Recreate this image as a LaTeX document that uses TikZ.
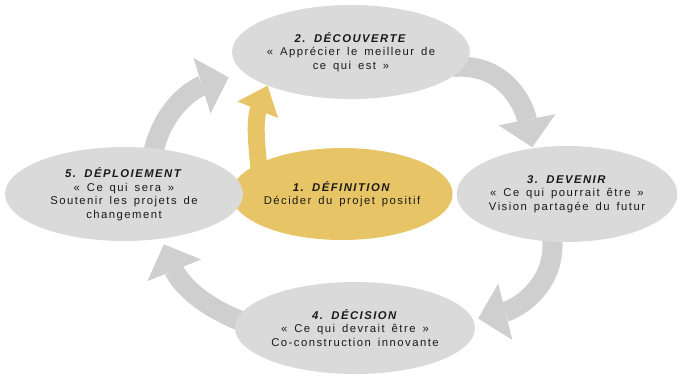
\documentclass[tikz,border=0pt]{standalone}
\usepackage{fontspec}
\setmainfont{Liberation Sans}[LetterSpace=13, WordSpace=1.5]
\usetikzlibrary{arrows.meta}
\usetikzlibrary{bending}
\usetikzlibrary{backgrounds}
\usetikzlibrary{shapes.geometric}
\definecolor{phasegray}{HTML}{DADADA}
\definecolor{flowgray}{HTML}{CFCFCF}
\definecolor{phasegold}{HTML}{E7C466}
\definecolor{phasetext}{HTML}{1A1A1A}

\begin{document}
\begin{tikzpicture}[
    x=1pt, y=1pt,
    every node/.style={
      ellipse,
      inner sep=0pt,
      align=center,
      text=phasetext,
      font=\fontsize{11.3}{13.5}\selectfont
    },
    phase/.style={fill=phasegray},
    flow/.style={
      draw=flowgray,
      line width=20pt,
      -{Triangle[length=28pt,width=58pt,line width=0pt,quick]}
    },
    goldflow/.style={
      draw=phasegold,
      line width=17pt,
      -{Triangle[length=26pt,width=44pt,line width=0pt]}
    }
    ]
    \useasboundingbox (0,0) rectangle (681,-376);
    \node[phase, minimum width=230, minimum height=94] (decouverte) at (351,-52)
      {\textbf{\textit{2. DÉCOUVERTE}}\\« Apprécier le meilleur de\\ce qui est »};
    \node[fill=phasegold, minimum width=190, minimum height=92] (definition) at (342,-194)
      {\textbf{\textit{1. DÉFINITION}}\\Décider du projet positif};
    \node[phase, minimum width=238, minimum height=94] (deploiement) at (124,-194)
      {\textbf{\textit{5. DÉPLOIEMENT}}\\« Ce qui sera »\\Soutenir les projets de\\changement};
    \node[phase, minimum width=220, minimum height=96] (devenir) at (567,-194)
      {\textbf{\textit{3. DEVENIR}}\\« Ce qui pourrait être »\\Vision partagée du futur};
    \node[phase, minimum width=240, minimum height=92] (decision) at (355,-328)
      {\textbf{\textit{4. DÉCISION}}\\« Ce qui devrait être »\\Co-construction innovante};

    \begin{pgfonlayer}{background}
      \draw[flow, shorten <=-12pt, shorten >=16pt]
        (deploiement.57) to[out=80, in=197] (decouverte.191.5);
      \draw[flow, shorten <=-12pt, shorten >=1pt]
        (decouverte.353) to[out=5, in=101] (devenir.127.6);
      \draw[flow, shorten <=-12pt, shorten >=5pt]
        (devenir.254) to[out=280, in=14] (decision.4.9);
      \draw[flow, shorten <=-12pt, shorten >=6pt]
        (decision.176) to[out=160, in=292] (deploiement.310.5);
      \draw[goldflow, shorten <=-12pt]
        (definition.160) to[out=95, in=240] (decouverte.202.7);
    \end{pgfonlayer}
\end{tikzpicture}
\end{document}
